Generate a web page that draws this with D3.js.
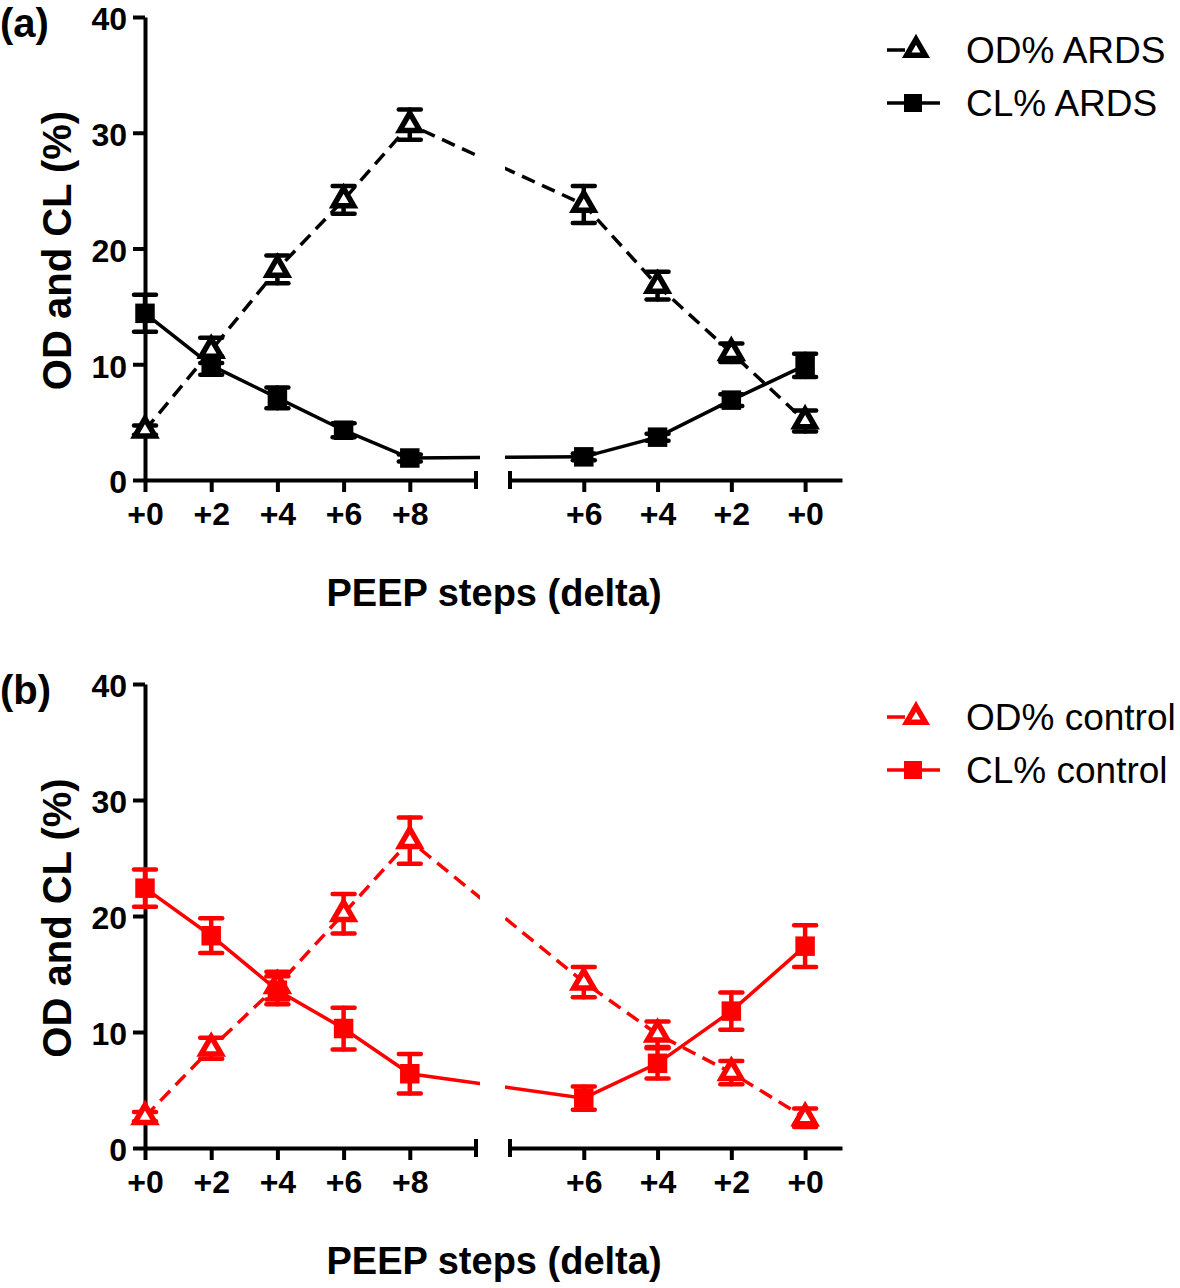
<!DOCTYPE html>
<html>
<head>
<meta charset="utf-8">
<script src="https://cdn.jsdelivr.net/npm/d3@7"></script>
<style>
  html, body { margin: 0; padding: 0; background: #fff; }
  svg { display: block; }
  text { font-family: "Liberation Sans", Arial, Helvetica, sans-serif; }
</style>
</head>
<body>
<svg id="chart" width="1180" height="1288"></svg>
<script>
// ---------- data ----------
const xLabelsLeft  = ["+0", "+2", "+4", "+6", "+8"];
const xLabelsRight = ["+6", "+4", "+2", "+0"];
const stepPos      = [0, 1, 2, 3, 4, 6, 7, 8, 9];   // position index on the broken axis
const yTicks       = [0, 10, 20, 30, 40];

const odARDS     = [4.3, 11.2, 18.2, 24.2, 30.7, 23.8, 16.8, 11.0, 5.1];
const odARDSErr  = [0.4, 1.1, 1.2, 1.2, 1.3, 1.6, 1.2, 0.8, 0.9];
const clARDS     = [14.4, 9.9, 7.1, 4.3, 1.9, 2.0, 3.7, 6.9, 9.9];
const clARDSErr  = [1.6, 0.8, 0.9, 0.6, 0.3, 0.3, 0.3, 0.5, 1.0];

const odCtrl     = [2.7, 8.6, 14.0, 20.2, 26.5, 14.3, 9.8, 6.5, 2.6];
const odCtrlErr  = [0.4, 0.9, 1.2, 1.7, 2.0, 1.3, 1.1, 1.0, 0.8];
const clCtrl     = [22.4, 18.3, 13.6, 10.3, 6.4, 4.3, 7.3, 11.8, 17.4];
const clCtrlErr  = [1.6, 1.5, 1.2, 1.8, 1.7, 1.0, 1.3, 1.6, 1.8];

const panels = [
  { label: "(a)", color: "#000000", top: 17, bottom: 480,
    od: odARDS, odErr: odARDSErr, cl: clARDS, clErr: clARDSErr,
    odName: "OD% ARDS", clName: "CL% ARDS" },
  { label: "(b)", color: "#ff0000", top: 684, bottom: 1148,
    od: odCtrl, odErr: odCtrlErr, cl: clCtrl, clErr: clCtrlErr,
    odName: "OD% control", clName: "CL% control" }
];

// ---------- drawing ----------
const svg = d3.select("#chart");
const xL = d3.scaleLinear().domain([0, 5]).range([145, 476]);
const xR = d3.scaleLinear().domain([5, 9.5]).range([510, 842]);
const xPos = i => (i <= 5 ? xL(i) : xR(i));

panels.forEach((p, pi) => {
  const y = d3.scaleLinear().domain([0, 40]).range([p.bottom, p.top]);
  const g = svg.append("g");

  // clip to create the axis break gap in the data lines
  const clipId = "clip" + pi;
  const cp = svg.append("defs").append("clipPath").attr("id", clipId);
  cp.append("rect").attr("x", 0).attr("y", p.top - 40).attr("width", 480).attr("height", p.bottom - p.top + 60);
  cp.append("rect").attr("x", 505).attr("y", p.top - 40).attr("width", 700).attr("height", p.bottom - p.top + 60);

  // y axis
  const yAxis = g.append("g").attr("transform", `translate(${xL(0)},0)`)
    .call(d3.axisLeft(y).tickValues(yTicks).tickSize(12).tickSizeOuter(0).tickPadding(6));
  yAxis.selectAll(".tick text").attr("dy", "0.4em");
  // x axes
  const xAxL = g.append("g").attr("transform", `translate(0,${p.bottom})`)
    .call(d3.axisBottom(xL).tickValues([0, 1, 2, 3, 4]).tickFormat(i => xLabelsLeft[i])
      .tickSize(12).tickSizeOuter(0).tickPadding(10));
  const xAxR = g.append("g").attr("transform", `translate(0,${p.bottom})`)
    .call(d3.axisBottom(xR).tickValues([6, 7, 8, 9]).tickFormat(i => xLabelsRight[i - 6])
      .tickSize(12).tickSizeOuter(0).tickPadding(10));
  [yAxis, xAxL, xAxR].forEach(a => {
    a.select(".domain").attr("stroke", "#000").attr("stroke-width", 4);
    a.selectAll(".tick line").attr("stroke", "#000").attr("stroke-width", 4);
    a.selectAll(".tick text").attr("fill", "#000")
      .style("font-size", "32px").style("font-weight", "bold");
  });
  // break marks
  [xL(5), xR(5)].forEach(bx => {
    g.append("line").attr("x1", bx).attr("x2", bx)
      .attr("y1", p.bottom - 9).attr("y2", p.bottom + 9)
      .attr("stroke", "#000").attr("stroke-width", 4);
  });

  // axis titles
  g.append("text").attr("transform", `translate(71,${(p.top + p.bottom) / 2 + 2}) rotate(-90)`)
    .attr("text-anchor", "middle").style("font-size", "40px").style("font-weight", "bold")
    .text("OD and CL (%)");
  g.append("text").attr("x", 494).attr("y", p.bottom + 126)
    .attr("text-anchor", "middle").style("font-size", "38px").style("font-weight", "bold")
    .text("PEEP steps (delta)");
  g.append("text").attr("x", 0).attr("y", p.top + 20)
    .style("font-size", "40px").style("font-weight", "bold").text(p.label);

  const rows = (vals, errs) => vals.map((v, k) => ({ i: stepPos[k], v, e: errs[k] }));
  const odRows = rows(p.od, p.odErr);
  const clRows = rows(p.cl, p.clErr);
  const line = d3.line().x(d => xPos(d.i)).y(d => y(d.v));

  const dataG = g.append("g");
  const linesG = dataG.append("g").attr("clip-path", `url(#${clipId})`);
  linesG.append("path").datum(odRows).attr("d", line).attr("fill", "none")
    .attr("stroke", p.color).attr("stroke-width", 3.5).attr("stroke-dasharray", "14,8");
  linesG.append("path").datum(clRows).attr("d", line).attr("fill", "none")
    .attr("stroke", p.color).attr("stroke-width", 3.5);

  // error bars
  const drawErr = data => {
    const eg = dataG.append("g").attr("stroke", p.color).attr("stroke-width", 4.5)
      .attr("stroke-linecap", "round");
    data.forEach(d => {
      const cx = xPos(d.i);
      eg.append("line").attr("x1", cx).attr("x2", cx).attr("y1", y(d.v - d.e)).attr("y2", y(d.v + d.e));
      [d.v - d.e, d.v + d.e].forEach(ev => {
        eg.append("line").attr("x1", cx - 11).attr("x2", cx + 11).attr("y1", y(ev)).attr("y2", y(ev));
      });
    });
  };
  drawErr(odRows);
  drawErr(clRows);

  // markers
  const tri = d3.symbol().type(d3.symbolTriangle).size(175);
  const sq = d3.symbol().type(d3.symbolSquare).size(380);
  dataG.selectAll(".tri").data(odRows).join("path").attr("class", "tri")
    .attr("d", tri).attr("transform", d => `translate(${xPos(d.i)},${y(d.v)})`)
    .attr("fill", "#fff").attr("stroke", p.color).attr("stroke-width", 5.5);
  dataG.selectAll(".sq").data(clRows).join("path").attr("class", "sq")
    .attr("d", sq).attr("transform", d => `translate(${xPos(d.i)},${y(d.v)})`)
    .attr("fill", p.color);

  // legend
  const lg = g.append("g");
  const ly1 = p.top + 33, ly2 = p.top + 86;
  lg.append("line").attr("x1", 887).attr("x2", 942).attr("y1", ly1).attr("y2", ly1)
    .attr("stroke", p.color).attr("stroke-width", 3.5).attr("stroke-dasharray", "18,10,3,100");
  lg.append("path").attr("d", d3.symbol().type(d3.symbolTriangle).size(150))
    .attr("transform", `translate(916,${ly1})`)
    .attr("fill", "#fff").attr("stroke", p.color).attr("stroke-width", 5.5);
  lg.append("line").attr("x1", 887).attr("x2", 940).attr("y1", ly2).attr("y2", ly2)
    .attr("stroke", p.color).attr("stroke-width", 3.5);
  lg.append("path").attr("d", d3.symbol().type(d3.symbolSquare).size(324))
    .attr("transform", `translate(913,${ly2})`).attr("fill", p.color);
  lg.append("text").attr("x", 966).attr("y", ly1 + 13).style("font-size", "37px").text(p.odName);
  lg.append("text").attr("x", 966).attr("y", ly2 + 13).style("font-size", "37px").text(p.clName);
});
</script>
</body>
</html>
